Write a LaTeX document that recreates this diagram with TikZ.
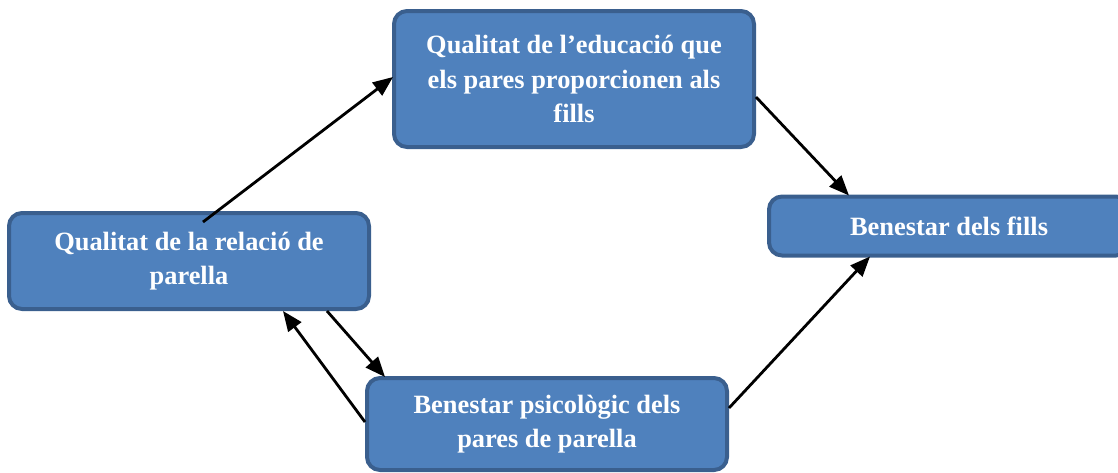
\documentclass[tikz,border=0pt]{standalone}
\usepackage{fontspec}
\setmainfont{Liberation Serif}
\usetikzlibrary{arrows.meta}
\definecolor{boxfill}{HTML}{4F81BD}
\definecolor{boxline}{HTML}{3A5F8E}
\begin{document}
\begin{tikzpicture}[x=1pt,y=-1pt,
  box/.style={rectangle, rounded corners=13pt, draw=boxline, line width=4pt, fill=boxfill,
    text=white, font=\bfseries\fontsize{26.4}{34.5}\selectfont, align=center, inner sep=0pt},
  conn/.style={line width=2.8pt, -{Triangle[length=20pt,width=16pt]}}]
\useasboundingbox (0,0) rectangle (1118,472);
\node[box, minimum width=360pt, minimum height=136pt] (top) at (574,79)
  {Qualitat de l’educació que\\els pares proporcionen als\\fills};
\node[box, minimum width=360pt, minimum height=96pt] (left) at (189,261)
  {Qualitat de la relació de\\parella};
\node[box, minimum width=360pt, minimum height=59pt] (right) at (949,226)
  {Benestar dels fills};
\node[box, minimum width=360pt, minimum height=92pt] (bottom) at (547,424)
  {Benestar psicològic dels\\pares de parella};
\draw[conn] ([xshift=14pt,yshift=-11pt]left.north) -- ([xshift=1pt,yshift=2pt]top.west);
\draw[conn] ([yshift=-18pt]top.east) -- ([xshift=-100pt,yshift=-1pt]right.north);
\draw[conn] ([yshift=16pt]bottom.east) -- ([xshift=-79pt,yshift=1pt]right.south);
\draw[conn] ([xshift=138pt]left.south) -- ([xshift=-162pt,yshift=-1pt]bottom.north);
\draw[conn] ([yshift=2pt]bottom.west) -- ([xshift=94pt]left.south);
\end{tikzpicture}
\end{document}
